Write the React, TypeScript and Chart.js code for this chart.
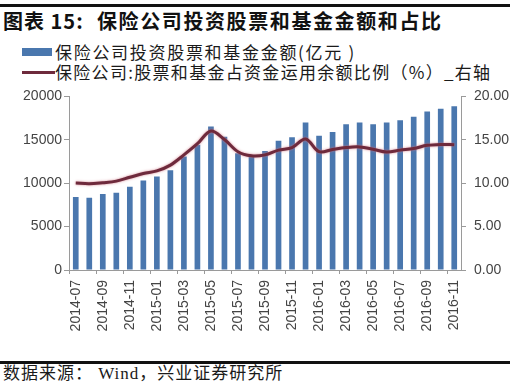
import React, { useEffect, useRef } from "react";
import { Chart, registerables } from "chart.js";

Chart.register(...registerables);

const months: string[] = [
  "2014-07", "2014-08", "2014-09", "2014-10", "2014-11", "2014-12",
  "2015-01", "2015-02", "2015-03", "2015-04", "2015-05", "2015-06",
  "2015-07", "2015-08", "2015-09", "2015-10", "2015-11", "2015-12",
  "2016-01", "2016-02", "2016-03", "2016-04", "2016-05", "2016-06",
  "2016-07", "2016-08", "2016-09", "2016-10", "2016-11",
];

// 保险公司投资股票和基金金额(亿元)
const amountValues: number[] = [
  8400, 8320, 8770, 8910, 9580, 10310, 10760, 11490, 13080, 14440,
  16540, 15360, 13450, 13190, 13700, 14880, 15290, 16980, 15470, 15910,
  16800, 16980, 16800, 16980, 17240, 17650, 18270, 18570, 18860,
];

// 保险公司:股票和基金占资金运用余额比例(%)
const ratioValues: number[] = [
  10.02, 9.94, 10.06, 10.24, 10.68, 11.12, 11.42, 12.08, 13.26, 14.55,
  16.02, 15.03, 13.63, 13.15, 13.26, 13.81, 14.1, 15.1, 13.63, 13.89,
  14.11, 14.18, 13.92, 13.59, 13.81, 14.0, 14.36, 14.47, 14.44,
];

const leftTicks: number[] = [0, 5000, 10000, 15000, 20000];
const rightTicks: number[] = [0, 5, 10, 15, 20];

const titlePrefix = "图表 15:";
const titleText = "保险公司投资股票和基金金额和占比";
const legendBar = "保险公司投资股票和基金金额(亿元 )";
const legendLine = "保险公司:股票和基金占资金运用余额比例（%）_右轴";
const sourceText = "数据来源： Wind，兴业证券研究所";

const BAR_COLOR = "#4A77AE";
const LINE_COLOR = "#6E2A3C";
const AXIS_COLOR = "#9a9a9a";
const TICK_COLOR = "#444";
const TICK_FONT = { family: "'Liberation Sans', Arial, sans-serif", size: 14 };

export default function App() {
  const canvasRef = useRef<HTMLCanvasElement | null>(null);

  useEffect(() => {
    if (!canvasRef.current) return;
    const haloPlugin = {
      id: "halo",
      beforeDatasetDraw(chart: any, args: any) {
        if (args.index === 1) {
          const ctx = chart.ctx;
          ctx.save();
          ctx.shadowColor = "rgba(205,110,125,0.85)";
          ctx.shadowBlur = 2.5;
        }
      },
      afterDatasetDraw(chart: any, args: any) {
        if (args.index === 1) chart.ctx.restore();
      },
    };
    const chart = new Chart(canvasRef.current, {
      type: "bar",
      data: {
        labels: months,
        datasets: [
          {
            type: "bar",
            label: legendBar,
            data: amountValues,
            backgroundColor: BAR_COLOR,
            barPercentage: 0.42,
            categoryPercentage: 1,
            yAxisID: "y",
            order: 1,
          },
          {
            type: "line",
            label: legendLine,
            data: ratioValues,
            borderColor: LINE_COLOR,
            borderWidth: 3,
            pointRadius: 0,
            tension: 0.35,
            yAxisID: "y1",
            order: 0,
          } as any,
        ],
      },
      options: {
        responsive: false,
        animation: false,
        layout: { padding: { top: 10, left: 0, right: 0, bottom: 0 } },
        plugins: { legend: { display: false }, tooltip: { enabled: false } },
        scales: {
          x: {
            offset: true,
            grid: {
              offset: true,
              drawOnChartArea: false,
              tickLength: 4,
              color: (c: any) => (c.index % 2 === 0 ? AXIS_COLOR : "rgba(0,0,0,0)"),
            },
            border: { color: AXIS_COLOR },
            ticks: {
              autoSkip: false,
              maxRotation: 90,
              minRotation: 90,
              padding: 6,
              color: TICK_COLOR,
              font: TICK_FONT,
              callback: (_v: any, i: number) => (i % 2 === 0 ? months[i] : ""),
            },
            afterFit: (s: any) => {
              s.height = 75;
            },
          },
          y: {
            position: "left",
            min: leftTicks[0],
            max: leftTicks[leftTicks.length - 1],
            afterBuildTicks: (s: any) => {
              s.ticks = leftTicks.map((v) => ({ value: v }));
            },
            grid: { drawOnChartArea: false, tickLength: 5, color: AXIS_COLOR },
            border: { color: AXIS_COLOR },
            ticks: {
              padding: 2,
              color: TICK_COLOR,
              font: TICK_FONT,
              callback: (v: any) => String(v),
            },
            afterFit: (s: any) => {
              s.width = 69;
            },
          },
          y1: {
            position: "right",
            min: rightTicks[0],
            max: rightTicks[rightTicks.length - 1],
            afterBuildTicks: (s: any) => {
              s.ticks = rightTicks.map((v) => ({ value: v }));
            },
            grid: { drawOnChartArea: false, tickLength: 5, color: AXIS_COLOR },
            border: { color: AXIS_COLOR },
            ticks: {
              padding: 8,
              color: TICK_COLOR,
              font: TICK_FONT,
              callback: (v: any) => Number(v).toFixed(2),
            },
            afterFit: (s: any) => {
              s.width = 54;
            },
          },
        },
      },
      plugins: [haloPlugin],
    });
    return () => chart.destroy();
  }, []);

  const cjk = "'Noto Sans CJK SC', 'Noto Sans', sans-serif";

  return (
    <div
      style={{
        position: "absolute",
        left: 0,
        top: 0,
        width: 515,
        height: 384,
        background: "#fff",
        overflow: "hidden",
        color: "#1a1a1a",
      }}
    >
      <div style={{ position: "absolute", left: 0, top: 4, width: 510, height: 3, background: "#111" }} />
      <div
        style={{
          position: "absolute",
          left: 3,
          top: 8,
          fontFamily: cjk,
          fontWeight: 700,
          fontSize: 20,
          lineHeight: "26px",
          whiteSpace: "nowrap",
          color: "#111",
        }}
      >
        <span style={{ letterSpacing: 1 }}>{titlePrefix}</span>
        <span style={{ position: "absolute", left: 94, letterSpacing: 1.6 }}>{titleText}</span>
      </div>
      <div style={{ position: "absolute", left: 22, top: 48, width: 30, height: 8, background: BAR_COLOR }} />
      <div
        style={{
          position: "absolute",
          left: 55,
          top: 40,
          fontFamily: cjk,
          fontSize: 17,
          lineHeight: "24px",
          letterSpacing: 1.7,
          whiteSpace: "nowrap",
        }}
      >
        {legendBar}
      </div>
      <div style={{ position: "absolute", left: 22, top: 71, width: 33, height: 3, background: LINE_COLOR }} />
      <div
        style={{
          position: "absolute",
          left: 55,
          top: 60,
          fontFamily: cjk,
          fontSize: 17,
          lineHeight: "24px",
          letterSpacing: 1.3,
          whiteSpace: "nowrap",
        }}
      >
        {legendLine}
      </div>
      <canvas
        ref={canvasRef}
        width={515}
        height={265}
        style={{ position: "absolute", left: 0, top: 80, width: 515, height: 265 }}
      />
      <div style={{ position: "absolute", left: 0, top: 361, width: 510, height: 3, background: "#111" }} />
      <div
        style={{
          position: "absolute",
          left: 3,
          top: 364,
          fontFamily: "'Liberation Serif', 'Noto Sans CJK SC', serif",
          fontSize: 17,
          lineHeight: "20px",
          letterSpacing: 1,
          whiteSpace: "nowrap",
        }}
      >
        {sourceText}
      </div>
    </div>
  );
}
